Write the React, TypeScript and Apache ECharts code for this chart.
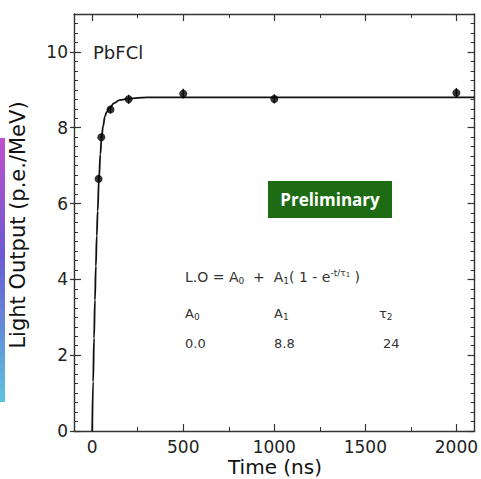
import React, { useEffect, useRef } from "react";
import * as echarts from "echarts";

// Measured data points (time in ns, light output in p.e./MeV)
const pointTimes = [35, 50, 100, 200, 500, 1000, 2000];
const pointValues = [6.65, 7.75, 8.48, 8.75, 8.9, 8.76, 8.92];
const pointErrors = [0.1, 0.1, 0.1, 0.12, 0.13, 0.12, 0.13];

// Fit curve
const fitTimes = [0, 5, 10, 15, 20, 25, 30, 37, 45, 51, 60, 70, 80, 97, 120, 150, 200, 300, 500, 1000, 2100];
const fitValues = [0, 1.3, 2.45, 3.45, 4.35, 5.15, 5.8, 6.65, 7.3, 7.72, 8.05, 8.3, 8.42, 8.53, 8.65, 8.73, 8.77, 8.8, 8.8, 8.8, 8.8];

// Axis ticks
const xMajorTicks = [0, 500, 1000, 1500, 2000];
const xMinorTicks = [250, 750, 1250, 1750];
const yMajorTicks = [0, 2, 4, 6, 8, 10];

const FONT = "DejaVu Sans";
const AXIS_COLOR = "#333";

export default function App() {
  const ref = useRef<HTMLDivElement>(null);

  useEffect(() => {
    document.body.style.margin = "0";
    if (!ref.current) return;
    const chart = echarts.init(ref.current, undefined, { renderer: "svg" });

    const yMinorTicks: number[] = [];
    for (let i = 0; i <= 44; i++) {
      const v = i * 0.25;
      if (!yMajorTicks.includes(v) && v < 11) yMinorTicks.push(v);
    }

    const baseX = {
      type: "value" as const,
      min: -100,
      max: 2100,
      splitLine: { show: false },
      axisLabel: { show: false },
    };
    const baseY = {
      type: "value" as const,
      min: 0,
      max: 11,
      splitLine: { show: false },
      axisLabel: { show: false },
    };
    const line = { show: true, onZero: false, lineStyle: { color: AXIS_COLOR, width: 1.4 } };
    const noLine = { show: false, onZero: false };

    const option: any = {
      animation: false,
      backgroundColor: "#fff",
      grid: { left: 74, right: 6, top: 14, bottom: 48 },
      xAxis: [
        {
          ...baseX,
          position: "bottom",
          axisLine: line,
          axisTick: { show: true, inside: true, length: 7, customValues: xMajorTicks, lineStyle: { color: AXIS_COLOR, width: 1.2 } },
          axisLabel: {
            show: true,
            customValues: xMajorTicks,
            formatter: (v: number) => String(v),
            margin: 7,
            fontFamily: FONT,
            fontSize: 17,
            color: "#222",
          },
        },
        {
          ...baseX,
          position: "bottom",
          axisLine: noLine,
          axisTick: { show: true, inside: true, length: 4, customValues: xMinorTicks, lineStyle: { color: AXIS_COLOR, width: 1 } },
        },
        {
          ...baseX,
          position: "top",
          axisLine: line,
          axisTick: { show: true, inside: true, length: 7, customValues: xMajorTicks, lineStyle: { color: AXIS_COLOR, width: 1.2 } },
        },
        {
          ...baseX,
          position: "top",
          axisLine: noLine,
          axisTick: { show: true, inside: true, length: 4, customValues: xMinorTicks, lineStyle: { color: AXIS_COLOR, width: 1 } },
        },
      ],
      yAxis: [
        {
          ...baseY,
          position: "left",
          axisLine: line,
          axisTick: { show: true, inside: true, length: 7, customValues: yMajorTicks, lineStyle: { color: AXIS_COLOR, width: 1.2 } },
          axisLabel: {
            show: true,
            customValues: yMajorTicks,
            formatter: (v: number) => String(v),
            margin: 6,
            fontFamily: FONT,
            fontSize: 17,
            color: "#222",
          },
        },
        {
          ...baseY,
          position: "left",
          axisLine: noLine,
          axisTick: { show: true, inside: false, length: 4, customValues: yMajorTicks, lineStyle: { color: AXIS_COLOR, width: 1.2 } },
        },
        {
          ...baseY,
          position: "left",
          axisLine: noLine,
          axisTick: { show: true, inside: true, length: 4, customValues: yMinorTicks, lineStyle: { color: AXIS_COLOR, width: 1 } },
        },
        {
          ...baseY,
          position: "right",
          axisLine: line,
          axisTick: { show: true, inside: true, length: 7, customValues: yMajorTicks, lineStyle: { color: AXIS_COLOR, width: 1.2 } },
        },
        {
          ...baseY,
          position: "right",
          axisLine: noLine,
          axisTick: { show: true, inside: true, length: 4, customValues: yMinorTicks, lineStyle: { color: AXIS_COLOR, width: 1 } },
        },
      ],
      series: [
        {
          name: "fit",
          type: "line",
          xAxisIndex: 0,
          yAxisIndex: 0,
          data: fitTimes.map((t, i) => [t, fitValues[i]]),
          smooth: 0.4,
          smoothMonotone: "x",
          showSymbol: false,
          symbol: "none",
          lineStyle: { color: "#111", width: 1.8 },
          z: 2,
        },
        {
          name: "errors",
          type: "custom",
          xAxisIndex: 0,
          yAxisIndex: 0,
          data: pointTimes.map((t, i) => [t, pointValues[i] - pointErrors[i], pointValues[i] + pointErrors[i]]),
          renderItem: (params: any, api: any) => {
            const x = api.value(0);
            const lo = api.coord([x, api.value(1)]);
            const hi = api.coord([x, api.value(2)]);
            return {
              type: "line",
              shape: { x1: lo[0], y1: lo[1], x2: hi[0], y2: hi[1] },
              style: { stroke: "#111", lineWidth: 1.3 },
            };
          },
          z: 3,
        },
        {
          name: "data",
          type: "scatter",
          xAxisIndex: 0,
          yAxisIndex: 0,
          data: pointTimes.map((t, i) => [t, pointValues[i]]),
          symbol: "circle",
          symbolSize: 8,
          itemStyle: { color: "#000" },
          z: 4,
        },
      ],
      graphic: [
        {
          type: "rect",
          left: 0,
          top: 138,
          shape: { width: 5, height: 264 },
          style: {
            fill: new echarts.graphic.LinearGradient(0, 0, 0, 1, [
              { offset: 0, color: "#c14fcb" },
              { offset: 0.45, color: "#6a5ad3" },
              { offset: 1, color: "#5cc3de" },
            ]),
          },
        },
        {
          type: "text",
          x: 18,
          y: 225,
          rotation: Math.PI / 2,
          style: {
            text: "Light Output (p.e./MeV)",
            font: `21px "${FONT}"`,
            fill: "#111",
            align: "center",
            verticalAlign: "middle",
          },
        },
        {
          type: "text",
          x: 275,
          y: 467,
          style: {
            text: "Time (ns)",
            font: `20px "${FONT}"`,
            fill: "#111",
            align: "center",
            verticalAlign: "middle",
          },
        },
        {
          type: "text",
          x: 93,
          y: 52,
          style: {
            text: "PbFCl",
            font: `18px "${FONT}"`,
            fill: "#222",
            align: "left",
            verticalAlign: "middle",
          },
        },
        {
          type: "rect",
          x: 268,
          y: 181,
          shape: { width: 124, height: 37 },
          style: { fill: "#1d6b12" },
        },
        {
          type: "text",
          x: 330,
          y: 199.5,
          style: {
            text: "Preliminary",
            font: `bold 17px "Open Sans"`,
            fill: "#fff",
            align: "center",
            verticalAlign: "middle",
          },
        },
        {
          type: "text",
          x: 185,
          y: 277,
          style: {
            text: "{a|L.O = A}{s|0}{a|  +  A}{s|1}{a|( 1 - e}{p|-t/τ}{ps|1}{a| )}",
            fill: "#333",
            align: "left",
            verticalAlign: "middle",
            rich: {
              a: { fontFamily: FONT, fontSize: 14, fill: "#333", lineHeight: 22, verticalAlign: "middle" },
              s: { fontFamily: FONT, fontSize: 9, fill: "#333", lineHeight: 22, verticalAlign: "bottom", padding: [0, 0, 3, 0] },
              p: { fontFamily: FONT, fontSize: 9, fill: "#333", lineHeight: 22, verticalAlign: "top", padding: [2, 0, 0, 0] },
              ps: { fontFamily: FONT, fontSize: 7, fill: "#333", lineHeight: 22, verticalAlign: "top", padding: [5, 0, 0, 0] },
            },
          },
        },
        {
          type: "text",
          x: 185,
          y: 313,
          style: {
            text: "{a|A}{s|0}",
            align: "left",
            verticalAlign: "middle",
            rich: {
              a: { fontFamily: FONT, fontSize: 13, fill: "#333", lineHeight: 20, verticalAlign: "middle" },
              s: { fontFamily: FONT, fontSize: 9, fill: "#333", lineHeight: 20, verticalAlign: "bottom", padding: [0, 0, 2, 0] },
            },
          },
        },
        {
          type: "text",
          x: 274,
          y: 313,
          style: {
            text: "{a|A}{s|1}",
            align: "left",
            verticalAlign: "middle",
            rich: {
              a: { fontFamily: FONT, fontSize: 13, fill: "#333", lineHeight: 20, verticalAlign: "middle" },
              s: { fontFamily: FONT, fontSize: 9, fill: "#333", lineHeight: 20, verticalAlign: "bottom", padding: [0, 0, 2, 0] },
            },
          },
        },
        {
          type: "text",
          x: 379,
          y: 313,
          style: {
            text: "{a|τ}{s|2}",
            align: "left",
            verticalAlign: "middle",
            rich: {
              a: { fontFamily: FONT, fontSize: 13, fill: "#333", lineHeight: 20, verticalAlign: "middle" },
              s: { fontFamily: FONT, fontSize: 9, fill: "#333", lineHeight: 20, verticalAlign: "bottom", padding: [0, 0, 2, 0] },
            },
          },
        },
        {
          type: "text",
          x: 185,
          y: 343,
          style: { text: "0.0", font: `13px "${FONT}"`, fill: "#333", align: "left", verticalAlign: "middle" },
        },
        {
          type: "text",
          x: 274,
          y: 343,
          style: { text: "8.8", font: `13px "${FONT}"`, fill: "#333", align: "left", verticalAlign: "middle" },
        },
        {
          type: "text",
          x: 383,
          y: 343,
          style: { text: "24", font: `13px "${FONT}"`, fill: "#333", align: "left", verticalAlign: "middle" },
        },
      ],
    };

    chart.setOption(option);
    return () => chart.dispose();
  }, []);

  return <div ref={ref} style={{ width: 481, height: 479 }} />;
}
